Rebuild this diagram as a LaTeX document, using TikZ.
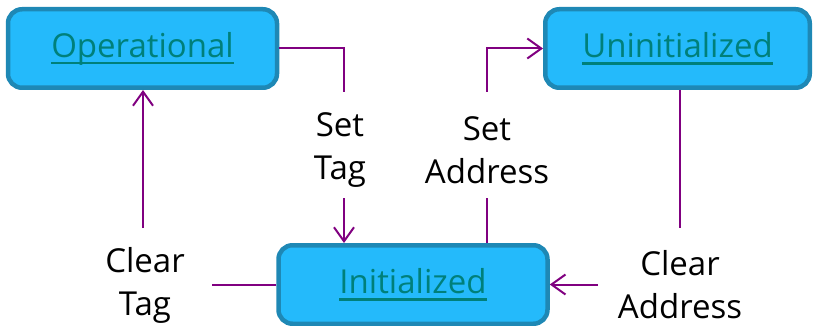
\documentclass[tikz,border=0pt]{standalone}
\usepackage{fontspec}
\setmainfont{Open Sans}
\usetikzlibrary{arrows.meta}
\definecolor{boxfill}{HTML}{24BAFB}
\definecolor{boxline}{HTML}{1E88B5}
\definecolor{txtcol}{HTML}{00807A}
\definecolor{conncol}{HTML}{800080}
\newcommand\myul[1]{\setbox0\hbox{#1}\rlap{\raisebox{-7pt}{\color{txtcol}\rule{\wd0}{2.5pt}}}\box0}
\begin{document}
\begin{tikzpicture}[x=1pt,y=-1pt,
  state/.style={draw=boxline, fill=boxfill, line width=4.5pt, rounded corners=14pt,
    minimum width=269pt, minimum height=78.5pt, inner sep=0pt,
    font=\fontsize{33}{40}\selectfont, text=txtcol},
  lbl/.style={font=\fontsize{33}{43}\selectfont, align=center, inner sep=0pt},
  link/.style={draw=conncol, line width=2pt},
  tip/.style={-{Straight Barb[length=14pt,width=20pt,line width=2pt]}}]
\useasboundingbox (0,0) rectangle (813,326);
\node[state] (op) at (142.5,48.5) {\myul{Operational}};
\node[state, minimum width=264.5pt] (un) at (677.5,48.5) {\myul{Uninitialized}};
\node[state] (in) at (413,284.5) {\myul{Initialized}};
\node[lbl] (settag) at (340,150) {Set\\Tag};
\node[lbl] (setaddr) at (487,150) {Set\\Address};
\node[lbl] (cleartag) at (145,285) {Clear\\Tag};
\node[lbl] (clearaddr) at (680,285) {Clear\\Address};
\coordinate (a1) at (344,92);
\coordinate (a2) at (344,198);
\coordinate (b1) at (487,198);
\coordinate (b2) at (487,92);
\coordinate (c1) at (680,228);
\coordinate (c2) at (598,284.5);
\coordinate (d1) at (212,284.5);
\coordinate (d2) at (143,228);
\draw[link] (op.east) -| (a1);
\draw[link,tip] (a2) -- (a2 |- in.north);
\draw[link] (b1 |- in.north) -- (b1);
\draw[link,tip] (b2) |- (un.west);
\draw[link] (c1 |- un.south) -- (c1);
\draw[link,tip] (c2) -- (c2 -| in.east);
\draw[link] (d1 -| in.west) -- (d1);
\draw[link,tip] (d2) -- (d2 |- op.south);
\end{tikzpicture}
\end{document}
